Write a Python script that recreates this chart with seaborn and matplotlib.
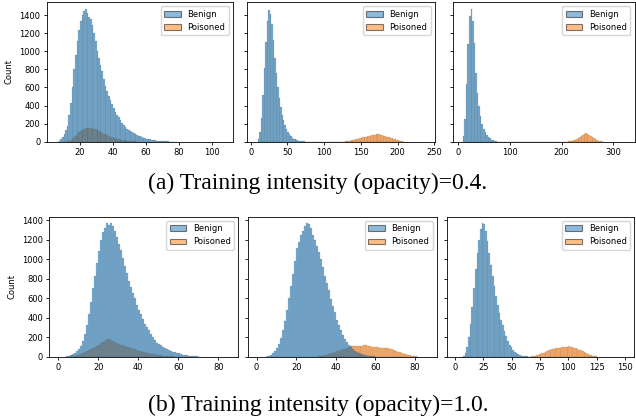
import numpy as np
import pandas as pd
import seaborn as sns
import matplotlib.pyplot as plt

# Per-bin counts. Each list starts at *_start, bins are *_width wide.
# Row (a): training intensity 0.4
a1_width = 1
a1_benign_start = 6
a1_benign = [2, 8, 25, 50, 85, 125, 170, 290, 430, 600, 800, 960, 1110, 1230, 1330, 1400,
             1440, 1470, 1420, 1380, 1360, 1290, 1200, 1110, 1000, 920, 850, 780, 690, 620,
             560, 510, 460, 420, 370, 330, 300, 270, 235, 210, 180, 160, 145, 130, 118, 105,
             95, 85, 76, 68, 60, 52, 46, 40, 35, 30, 26, 22, 19, 16, 13, 11, 9, 7, 6, 5, 4,
             3, 2, 2, 1, 1, 1]
a1_poison_start = 12
a1_poison = [5, 12, 22, 35, 50, 68, 88, 105, 120, 132, 142, 148, 152, 155, 150, 152, 145,
             138, 130, 120, 110, 100, 90, 80, 72, 64, 56, 50, 44, 38, 33, 28, 24, 20, 17, 14,
             11, 9, 7, 5, 4, 3, 2]

a2_width = 2
a2_benign_start = 10
a2_benign = [30, 110, 260, 520, 820, 1100, 1330, 1460, 1410, 1300, 1120, 930, 760, 610, 480,
             380, 300, 235, 180, 140, 108, 82, 62, 46, 34, 25, 18, 13, 9, 6, 4, 3, 2]
a2_poison_start = 126
a2_poison = [2, 4, 6, 8, 11, 14, 18, 22, 26, 30, 35, 39, 44, 48, 52, 56, 60, 63, 66, 70, 73,
             77, 80, 82, 80, 78, 74, 68, 62, 57, 52, 47, 42, 36, 30, 25, 20, 15, 11, 7, 4, 2]

a3_width = 3
a3_benign_start = 9
a3_benign = [60, 250, 640, 1080, 1390, 1470, 1330, 1090, 760, 540, 390, 280, 200, 145, 105,
             75, 52, 36, 24, 15, 9, 5, 2]
a3_poison_start = 213
a3_poison = [3, 6, 10, 15, 21, 28, 37, 47, 60, 73, 86, 93, 86, 74, 61, 49, 38, 28, 20, 13, 8,
             4, 2]

# Row (b): training intensity 1.0
b1_width = 1
b1_benign_start = 4
b1_benign = [3, 8, 15, 25, 38, 55, 80, 105, 160, 230, 330, 440, 560, 700, 830, 960, 1080,
             1200, 1280, 1320, 1370, 1350, 1370, 1340, 1290, 1230, 1160, 1090, 1010, 930, 860,
             780, 710, 650, 600, 530, 480, 440, 390, 340, 300, 270, 230, 200, 170, 145, 130,
             115, 100, 90, 80, 68, 60, 52, 45, 38, 33, 28, 22, 18, 14, 11, 8, 6, 4, 3, 2]
b1_poison_start = 6
b1_poison = [3, 6, 10, 15, 22, 30, 40, 50, 60, 70, 78, 86, 98, 112, 125, 137, 150, 165, 180,
             186, 175, 162, 150, 140, 132, 124, 116, 108, 102, 95, 88, 80, 74, 68, 62, 56, 50,
             45, 40, 35, 31, 27, 24, 21, 18, 15, 12, 9, 7, 5, 4, 3, 2, 1, 1]

b2_width = 1
b2_benign_start = 4
b2_benign = [2, 5, 10, 20, 35, 55, 85, 130, 190, 270, 370, 480, 600, 720, 850, 980, 1110,
             1180, 1250, 1290, 1340, 1370, 1360, 1320, 1250, 1200, 1130, 1070, 1000, 920, 830,
             760, 680, 590, 520, 460, 380, 330, 270, 220, 180, 150, 125, 105, 80, 62, 50, 40,
             32, 25, 19, 14, 10, 7, 5, 3, 2]
b2_poison_start = 30
b2_poison = [2, 4, 7, 11, 15, 20, 26, 33, 40, 48, 56, 63, 70, 77, 84, 90, 96, 101, 105, 108,
             110, 112, 114, 113, 115, 116, 112, 108, 104, 100, 98, 95, 94, 92, 90, 88, 85, 80,
             75, 68, 60, 52, 44, 36, 30, 24, 18, 13, 9, 5, 3, 1]

b3_width = 1.5
b3_benign_start = 7
b3_benign = [10, 40, 100, 200, 340, 510, 700, 900, 1060, 1200, 1310, 1370, 1360, 1290, 1190,
             1060, 940, 830, 720, 620, 530, 450, 380, 320, 260, 210, 165, 125, 95, 70, 50, 36,
             26, 18, 12, 8, 5, 3, 2]
b3_poison_start = 67
b3_poison = [3, 6, 10, 15, 21, 28, 35, 42, 50, 58, 64, 70, 76, 81, 85, 88, 90, 92, 95, 97, 100,
             104, 106, 104, 98, 92, 86, 80, 72, 64, 55, 46, 38, 30, 22, 15, 10, 6, 3]

labels = ["Benign", "Poisoned"]
captions = ["(a) Training intensity (opacity)=0.4.", "(b) Training intensity (opacity)=1.0."]

xticks_a = [[20, 40, 60, 80, 100], [0, 50, 100, 150, 200, 250], [0, 100, 200, 300]]
xticks_b = [[0, 20, 40, 60, 80], [0, 20, 40, 60, 80], [0, 25, 50, 75, 100, 125, 150]]
yticks = [0, 200, 400, 600, 800, 1000, 1200, 1400]


def panel_frame(b_start, b_counts, p_start, p_counts, width):
    parts = []
    for label, start, counts in [("Benign", b_start, b_counts), ("Poisoned", p_start, p_counts)]:
        x = start + width * (np.arange(len(counts)) + 0.5)
        parts.append(pd.DataFrame({"value": x, "count": counts, "label": label}))
    df = pd.concat(parts, ignore_index=True)
    lo = min(b_start, p_start)
    hi = max(b_start + width * len(b_counts), p_start + width * len(p_counts))
    return df, width, (lo, hi)


panels = [
    [panel_frame(a1_benign_start, a1_benign, a1_poison_start, a1_poison, a1_width),
     panel_frame(a2_benign_start, a2_benign, a2_poison_start, a2_poison, a2_width),
     panel_frame(a3_benign_start, a3_benign, a3_poison_start, a3_poison, a3_width)],
    [panel_frame(b1_benign_start, b1_benign, b1_poison_start, b1_poison, b1_width),
     panel_frame(b2_benign_start, b2_benign, b2_poison_start, b2_poison, b2_width),
     panel_frame(b3_benign_start, b3_benign, b3_poison_start, b3_poison, b3_width)],
]

# axes boxes in pixels: (left, right) per column, (top, bottom) per row
W, H = 636, 419
col_px = [[(46.7, 232.7), (247, 435), (453, 634.5)],
          [(49.3, 238.3), (248.3, 436.7), (447.3, 634)]]
row_px = [(2, 141.7), (216.7, 356.7)]
xlims = [[(-0.2, 112.5), (-5, 251), (-10, 341)],
         [(-4.5, 90), (-4.2, 91), (-6.8, 158)]]
ylims = [(0, 1544), (0, 1435)]
xticks = [xticks_a, xticks_b]

fig, axes = plt.subplots(2, 3, figsize=(W / 100, H / 100), dpi=100, sharey="row")

for r in range(2):
    for c in range(3):
        ax = axes[r, c]
        df, bw, brange = panels[r][c]
        sns.histplot(data=df, x="value", weights="count", hue="label", hue_order=labels,
                     binwidth=bw, binrange=brange, ax=ax, alpha=0.6,
                     edgecolor=(0.25, 0.25, 0.25, 0.35), linewidth=0.25)
        (l, rr), (t, b) = col_px[r][c], row_px[r]
        ax.set_position([l / W, 1 - b / H, (rr - l) / W, (b - t) / H])
        ax.set_xlim(*xlims[r][c])
        ax.set_ylim(*ylims[r])
        ax.set_xticks(xticks[r][c])
        ax.set_yticks(yticks)
        ax.set_xlabel("")
        ax.set_ylabel("Count" if c == 0 else "", fontsize=6)
        ax.tick_params(labelsize=6, length=2.5, width=0.6, pad=2)
        for s in ax.spines.values():
            s.set_linewidth(0.6)
        sns.move_legend(ax, "upper right", title=None, fontsize=6)
        for h in ax.get_legend().legend_handles:
            h.set_alpha(0.5)
            h.set_edgecolor("black")
            h.set_linewidth(0.8)

fig.text(0.5, 1 - 183 / H, captions[0], ha="center", va="center", fontsize=17,
         family="Liberation Serif")
fig.text(0.5, 1 - 405 / H, captions[1], ha="center", va="center", fontsize=17,
         family="Liberation Serif")

fig.savefig("out.png", dpi=100)
